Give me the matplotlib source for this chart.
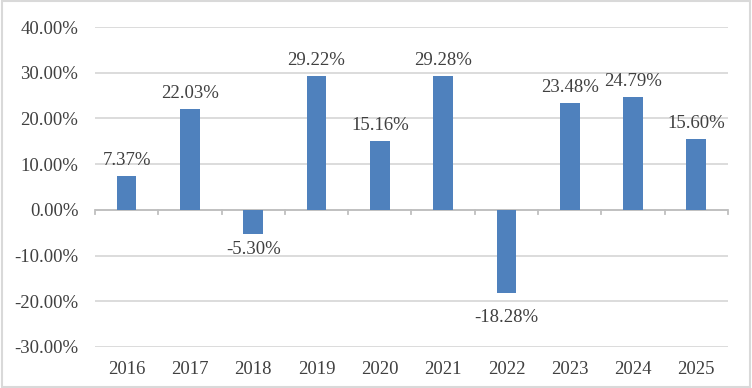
import numpy as np
import matplotlib.pyplot as plt
from matplotlib.ticker import FuncFormatter

years = ['2016', '2017', '2018', '2019', '2020', '2021', '2022', '2023', '2024', '2025']
returns = [7.37, 22.03, -5.30, 29.22, 15.16, 29.28, -18.28, 23.48, 24.79, 15.60]

plt.rcParams['font.family'] = ['Liberation Serif', 'DejaVu Serif']
text_color = '#404040'
grid_color = '#D9D9D9'
fs = 13.5

fig = plt.figure(figsize=(7.52, 3.88), dpi=100)
ax = fig.add_axes([0.1263, 0.1057, 0.8417, 0.8247])

x = np.arange(len(years))
ax.bar(x, returns, width=0.31, color='#4F81BD', zorder=3)

ax.set_ylim(-30, 40)
ax.set_xlim(-0.5, len(years) - 0.5)
ax.set_yticks(np.arange(-30, 41, 10))
ax.yaxis.set_major_formatter(FuncFormatter(lambda v, p: '%.2f%%' % v))
ax.grid(axis='y', color=grid_color, linewidth=1.3, zorder=0)
ax.tick_params(axis='y', length=0, labelsize=fs, labelcolor=text_color, pad=12)

# category labels at the bottom, x axis line at zero
ax.set_xticks([])
for i, y in enumerate(years):
    ax.text(i, -35.0, y, ha='center', va='center', fontsize=fs, color=text_color)

ax.axhline(0, color='#BFBFBF', linewidth=1.3, zorder=2)
for b in np.arange(-0.5, len(years) + 0.5, 1):
    ax.plot([b, b], [0, -0.8], color='#BFBFBF', linewidth=1.3, zorder=2, clip_on=False)

for s in ax.spines.values():
    s.set_visible(False)

for i, v in enumerate(returns):
    if v >= 0:
        ax.annotate('%.2f%%' % v, (i, v), xytext=(0, 5), textcoords='offset points',
                    ha='center', va='bottom', fontsize=fs, color=text_color)
    else:
        # the larger loss label sits a little further below its bar
        off = -5 if v > -10 else -11
        ax.annotate('%.2f%%' % v, (i, v), xytext=(0, off), textcoords='offset points',
                    ha='center', va='top', fontsize=fs, color=text_color)

# outer chart border
fig.patches.append(plt.Rectangle((0.002, 0.003), 0.996, 0.994, transform=fig.transFigure,
                                 fill=False, edgecolor='#D9D9D9', linewidth=1.5))

fig.savefig('out.png', dpi=100)
